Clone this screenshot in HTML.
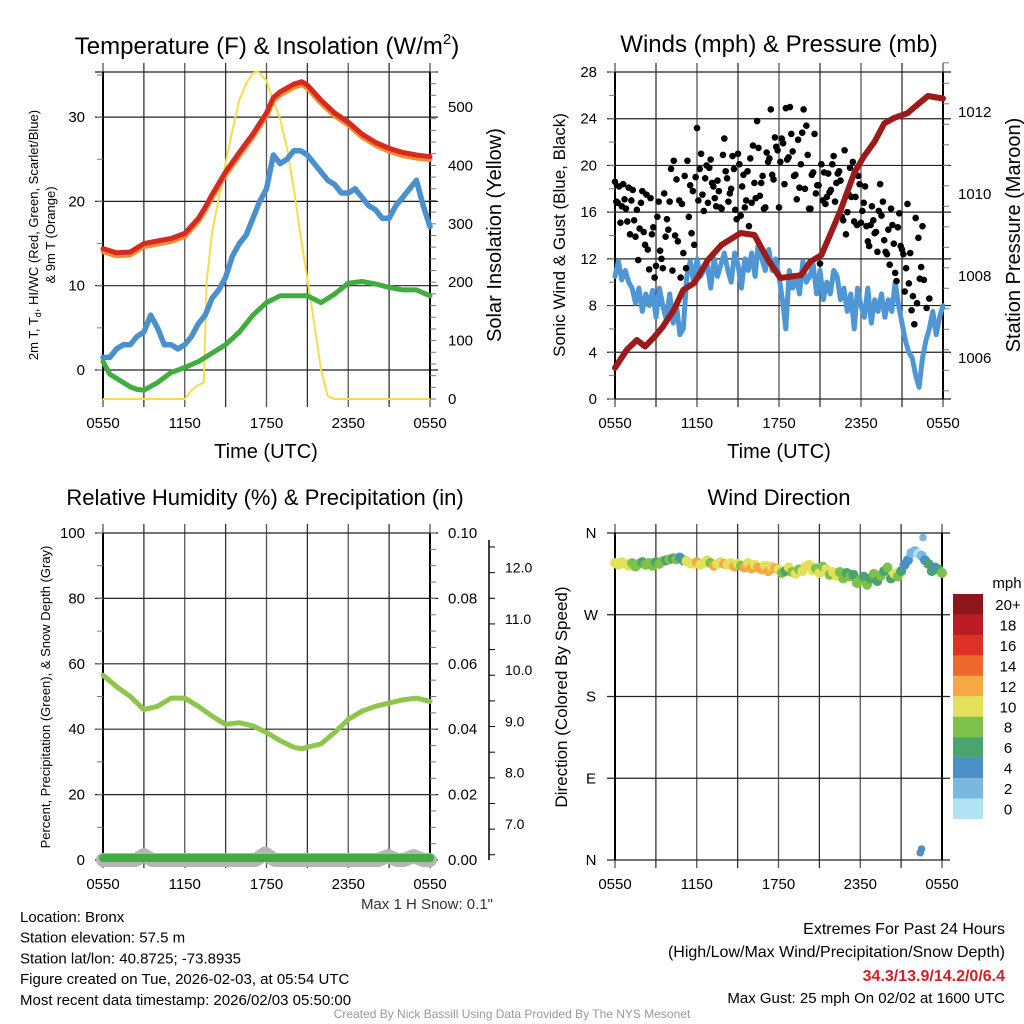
<!DOCTYPE html>
<html><head><meta charset="utf-8"><style>
body{margin:0;background:#fff}
svg{display:block;font-family:"Liberation Sans",Arial,sans-serif}
</style></head><body>
<svg id="s" width="1024" height="1024" viewBox="0 0 1024 1024">
<g id="bg"><rect width="1024" height="1024" fill="#fff"/></g>
</svg>
<script>
// ---- DATA ----
const xTickLabels = ["0550","1150","1750","2350","0550"];
const tempHours = [0,1,2,3,4,5,6,7,7.5,8,9,10,11,12,12.5,13,14,14.6,15,16,17,18,19,20,21,22,23,24];
const tempVals = [14.4,13.9,14.0,15.0,15.3,15.6,16.2,18.0,19.3,20.8,23.5,25.8,28.0,30.5,32.3,33.0,33.9,34.2,33.8,32.0,30.5,29.4,28.0,27.0,26.3,25.8,25.5,25.3];
const chillHalfHourly = [1.5,1.5,2.5,3.0,3.0,4.0,4.5,6.5,5.0,3.0,3.0,2.5,3.0,4.0,5.5,6.5,8.5,9.5,11.0,13.5,15.0,16.0,18.0,20.0,21.5,25.5,24.5,25.0,26.0,26.0,25.5,24.5,23.5,22.5,22.0,21.0,21.0,21.5,20.5,19.5,19.0,18.0,18.0,19.5,20.5,21.5,22.5,19.5,17.0];
const dewHours = [0,0.5,1,1.5,2,2.5,3,4,5,6,7,8,9,10,11,12,13,14,15,16,17,18,19,20,21,22,23,24];
const dewVals = [1.0,-0.5,-1.0,-1.5,-2.0,-2.3,-2.4,-1.5,-0.3,0.3,1.0,2.0,3.0,4.5,6.5,8.0,8.8,8.8,8.8,8.0,9.0,10.3,10.5,10.2,9.8,9.5,9.5,8.8];
const solarHours = [0,6,6.5,7,7.4,7.6,8,8.5,9,9.5,10,10.5,11,11.3,11.5,12,12.5,13,13.5,14,14.5,15,15.5,16,16.5,17,24];
const solarVals = [0,0,15,24,28,200,284,345,404,460,512,540,558,560,558,545,510,480,430,360,280,205,130,50,5,0,0];
const windQuarterHourly = [10.5,11.8,10.2,11,10,9.5,8.2,9.5,7.5,9,8,9.3,7,9.5,8,6.8,9,
6.5,8,5.5,6,10.5,11.8,10,12,10.5,11,11.5,9.5,12,10.5,11.5,12.5,
11,10,12.5,11.5,9.5,12,11,12.5,10.5,13.5,12,11,12.8,11,12,10.5,
8.5,6,11,9.5,10.5,9,11.8,10,10.5,11.5,9,11,8.5,10,9,11,
10.5,8.5,9.5,7.5,9,6,9.5,8,7,9.5,6.5,8.5,7.5,9,7,8.5,
7.5,10,8,6.5,5,4,3.5,2,1,3.5,5,6,7.5,5.5,7,8];
const gustA = [18.6,16.8,15.1,18.4,16.3,18.1,17,15.3,16.2,14.6,17.8,13.2,12.8,17.2,14.7,11.4,16.9,12,17.6,15.4,16.9,
11,14,13.5,10.4,12.5,11.2,15.6,14.2,13.2,23.2,19.7,17.5,18.9,16.8,20.5,18.2,16.5,17.8,16.3,
22.3,18.9,17.6,20.8,16.2,21,15.7,19.2,17,14.8,16.8,18.5,23.8,17.4,19.1,16.4,20.3,24.8,18.8,
21.6,16.4,22.3,18.4,20.5,25,21.2,19.2,22.2,20.1,24.8,23.4,16.3,19.2,22.7,18.3,11.6,17,16.7,
19.3,17.9,20.8,18.5,19.5,15.6,21.3,16,19.8,20.3,17.3,19.1,15.1,16.8,14.8,13.1,16.5,14.2,12.6,
18.4,16.9,12.6,14.5,16.3,13.3,10.1,15.9,12.8,9.2,16.7,12.5,8.8,15.5,13.8,11.3,10.2,7.8,8.6];
const gustB = [16.9,18.2,16.5,17.1,15.2,14.1,17.9,13.9,11.9,16.8,14.3,17.5,11.1,14.1,10.4,15.6,12.7,11.2,13.9,14.5,
19.7,20.4,18.8,17,16.7,19.1,20.4,18.3,17.8,19,17,21,16.1,20,19.8,18.5,17.2,18.7,16.4,
20.9,19.5,16.9,18,19.7,15.4,20.1,18.2,16.4,19.5,20.6,21.7,17.2,21.5,18.5,16.3,21.1,20.6,19.2,
22.4,21.3,20.3,21.9,24.9,20.7,22.7,19.1,17.1,18.1,22.8,18,20.9,16.3,19.4,17.6,18.3,20.1,
19.4,17.3,17.7,20.1,16.9,19.3,18.7,15.3,14.1,17.5,17.3,15.2,14.9,18.4,16.1,18.2,13.5,14.9,
15.3,14.3,16.1,15.7,13.6,12.4,11.5,14.9,10.8,14.7,13.1,12.4,11.2,9.9,7.6,6.4,8.2,10.3,14.8];
const presHours = [0,0.86,1.6,2.2,2.9,3.5,4.3,5.0,5.8,6.8,7.8,9.2,10.2,11.2,12.1,13.6,14.3,15.1,15.8,16.5,17.5,18.2,19.0,19.7,20.4,21.4,22.1,22.9,24];
const presVals = [1005.76,1006.2,1006.44,1006.28,1006.52,1006.76,1007.17,1007.66,1007.83,1008.39,1008.76,1009.05,1009.0,1008.39,1007.95,1008.02,1008.35,1008.51,1009.05,1009.6,1010.51,1010.91,1011.28,1011.72,1011.85,1011.97,1012.17,1012.39,1012.33];
const rhHours = [0,1,2,3,4,5,6,7,8,9,10,11,12,13,14,14.6,15,16,17,18,19,20,21,22,23,24];
const rhVals = [56.5,53,50,46,47,49.5,49.5,47,44,41.5,42,41,39,36.5,34.5,34,34.5,35.5,39,43,45.5,47,48,49,49.5,48.5];
const snowHours = [0,2.4,3,3.6,11.2,11.9,12.6,20.2,20.9,21.6,22.1,22.8,23.5,24];
const snowVals = [0,0,0.015,0,0,0.02,0,0,0.012,0,0,0.012,0,0];
const precipVals = [0,0];
const dirQuarterHourly = [327,325,328,326,324,327,323,326,328,325,327,324,328,326,329,330,331,
332,331,333,330,329,327,326,328,325,327,330,327,324,326,328,326,
325,327,323,326,324,322,327,321,325,322,320,324,318,323,321,320,
316,318,322,317,315,320,318,323,325,319,321,316,323,320,314,317,
313,317,310,316,312,314,305,308,312,303,310,315,307,313,318,322,
310,315,312,318,325,330,338,340,337,335,330,326,318,322,320,316];
const extraDirHours = [22.4,22.5,22.6];
const extraDirVals = [8,12,355];
const extraDirSpeeds = [4,4,2];
const colorLabels = ["20+","18","16","14","12","10","8","6","4","2","0"];
const colorScale = ["#8e1519","#b91c24","#dd3127","#ee6a2c","#f5a844","#e5e05a","#7dc14a","#4ba36e","#4a8fc6","#7ab8e0","#b3e2f5"];

// ---- HELPERS ----
const NS="http://www.w3.org/2000/svg";
const svg=document.getElementById('s');
function mk(tag,attrs,parent){const e=document.createElementNS(NS,tag);for(const k in attrs)e.setAttribute(k,attrs[k]);(parent||svg).appendChild(e);return e;}
function txt(s,x,y,size,anchor,parent,extra){const t=mk('text',Object.assign({x:x,y:y,'font-size':size,'text-anchor':anchor||'middle',fill:'#000'},extra||{}),parent);t.textContent=s;return t;}
function grp(name){const g=mk('g',{});return g;}
function path(pts){return pts.map((p,i)=>(i?'L':'M')+p[0].toFixed(1)+' '+p[1].toFixed(1)).join('');}

function frame(name,L,R,T,B,hLinesY){
  const g=grp(name+'-grid');
  for(let i=0;i<=8;i++){const x=L+(R-L)*i/8;mk('line',{x1:x,x2:x,y1:T-9,y2:B+8,stroke:i%2?'#333':'#555','stroke-width':1.3},g);}
  hLinesY.forEach(y=>mk('line',{x1:L-8,x2:R+8,y1:y,y2:y,stroke:'#222','stroke-width':1.2},g));
  mk('line',{x1:L,x2:L,y1:T,y2:B,stroke:'#000','stroke-width':2},g);
  mk('line',{x1:R,x2:R,y1:T,y2:B,stroke:'#000','stroke-width':2},g);
  const tg=grp(name+'-x-ticks');
  xTickLabels.forEach((s,i)=>{const t=txt(s,L+(R-L)*i/4,B+29,15,'middle',tg);});
}
function minorTicks(g,x,y0,y1,n,dir){for(let i=0;i<=n;i++){const y=y0+(y1-y0)*i/n;mk('line',{x1:x,x2:x+dir*6,y1:y,y2:y,stroke:'#777','stroke-width':1},g);}}
function rot(s,x,y,size,parent,name){const t=txt(s,x,y,size,'middle',parent,{transform:`rotate(-90 ${x} ${y})`});return t;}

// ===== PANEL 1: Temperature =====
(function(){
  const L=103,R=430,T=72,B=399;
  const X=h=>L+(R-L)*h/24;
  const Y=v=>370-v*8.43;
  const YS=v=>B-v*0.584;
  frame('temp-panel',L,R,T,B,[T,Y(0),Y(10),Y(20),Y(30)]);
  const ax=grp('temp-left-axis');
  minorTicks(ax,L,Y(0),Y(35),7,-1);
  [0,10,20,30].forEach(v=>txt(String(v),85,Y(v)+5,15,'end',ax));
  const ax2=grp('solar-right-axis');
  minorTicks(ax2,R,YS(0),YS(560),28,1);
  [0,100,200,300,400,500].forEach(v=>txt(String(v),448,YS(v)+5,15,'start',ax2));
  const s=grp('solar-series');
  mk('path',{d:path(solarHours.map((h,i)=>[X(h),YS(solarVals[i])])),fill:'none',stroke:'#f7dc4b','stroke-width':2},s);
  const dg=grp('dewpoint-series');
  mk('path',{d:path(dewHours.map((h,i)=>[X(h),Y(dewVals[i])])),fill:'none',stroke:'#3fae3f','stroke-width':5,'stroke-linejoin':'round','stroke-linecap':'round'},dg);
  const cg=grp('windchill-series');
  mk('path',{d:path(chillHalfHourly.map((v,i)=>[X(i*0.5),Y(v)])),fill:'none',stroke:'#4a90cd','stroke-width':5.5,'stroke-linejoin':'round','stroke-linecap':'round'},cg);
  const og=grp('temp-9m-series');
  mk('path',{d:path(tempHours.map((h,i)=>[X(h),Y(tempVals[i]-0.35)])),fill:'none',stroke:'#f5892d','stroke-width':5,'stroke-linejoin':'round','stroke-linecap':'round'},og);
  const rg=grp('temp-2m-series');
  mk('path',{d:path(tempHours.map((h,i)=>[X(h),Y(tempVals[i])])),fill:'none',stroke:'#d42a22','stroke-width':5,'stroke-linejoin':'round','stroke-linecap':'round'},rg);
  const tg=grp('temp-title');
  const t=txt('',267,54,24,'middle',tg);t.innerHTML='Temperature (F) &amp; Insolation (W/m<tspan font-size="15" dy="-10">2</tspan><tspan dy="10">)</tspan>';
  const lg=grp('temp-y-axis-title');
  const t1=txt('',38,235,13,'middle',lg,{transform:'rotate(-90 38 235)'});t1.innerHTML='2m T, T<tspan font-size="9" dy="3">d</tspan><tspan dy="-3">, HI/WC (Red, Green, Scarlet/Blue)</tspan>';
  txt('& 9m T (Orange)',55,235,13,'middle',lg,{transform:'rotate(-90 55 235)'});
  rot('Solar Insolation (Yellow)',501,235,20,svg,'solar-axis-title');
  const xt=txt('Time (UTC)',266,458,20,'middle');
})();

// ===== PANEL 2: Winds =====
(function(){
  const L=615,R=943,T=72,B=399;
  const X=h=>L+(R-L)*h/24;
  const Y=v=>B-v*327/28;
  const YP=p=>112+(1012-p)*41;
  frame('wind-panel',L,R,T,B,[0,4,8,12,16,20,24,28].map(Y));
  const ax=grp('wind-left-axis');
  minorTicks(ax,L,Y(0),Y(28),14,-1);
  [0,4,8,12,16,20,24,28].forEach(v=>txt(String(v),597,Y(v)+5,15,'end',ax));
  const ax2=grp('pressure-right-axis');
  minorTicks(ax2,R,YP(1005.2),YP(1013.2),16,1);
  [1006,1008,1010,1012].forEach(v=>txt(String(v),958,YP(v)+5,15,'start',ax2));
  const wg=grp('wind-series');
  mk('path',{d:path(windQuarterHourly.map((v,i)=>[X(i*0.25),Y(v)])),fill:'none',stroke:'#4f97d4','stroke-width':5,'stroke-linejoin':'round','stroke-linecap':'round'},wg);
  const gg=grp('gust-points');
  gustA.forEach((v,i)=>{const c=mk('circle',{cx:X(i*0.2),cy:Y(v),r:3.3,fill:'#000'},gg);
    
    });
  gustB.forEach((v,i)=>{const c=mk('circle',{cx:X(0.1+i*0.2),cy:Y(v),r:3.3,fill:'#000'},gg);
    
    });
  const pg=grp('pressure-series');
  mk('path',{d:path(presHours.map((h,i)=>[X(h),YP(presVals[i])])),fill:'none',stroke:'#9b1b1b','stroke-width':6,'stroke-linejoin':'round','stroke-linecap':'round'},pg);
  const tg=grp('wind-title');txt('Winds (mph) & Pressure (mb)',779,52,24,'middle',tg);
  rot('Sonic Wind & Gust (Blue, Black)',565,235,17,svg,'wind-axis-title');
  rot('Station Pressure (Maroon)',1020,235,20,svg,'pressure-axis-title');
  const xt=txt('Time (UTC)',779,458,20,'middle');
})();

// ===== PANEL 3: RH =====
(function(){
  const L=103,R=430,T=533,B=860;
  const X=h=>L+(R-L)*h/24;
  const Y=v=>B-v*3.27;
  const YQ=v=>B-v*3270;
  frame('rh-panel',L,R,T,B,[0,20,40,60,80,100].map(Y));
  const ax=grp('rh-left-axis');
  minorTicks(ax,L,Y(0),Y(100),10,-1);
  [0,20,40,60,80,100].forEach(v=>txt(String(v),85,Y(v)+5,15,'end',ax));
  const ax2=grp('precip-right-axis');
  minorTicks(ax2,R,YQ(0),YQ(0.1),20,1);
  ['0.00','0.02','0.04','0.06','0.08','0.10'].forEach(s=>txt(s,448,YQ(+s)+5,15,'start',ax2));
  const ax3=grp('snow-depth-axis');
  mk('line',{x1:489,x2:489,y1:540,y2:860,stroke:'#000','stroke-width':1.5},ax3);
  for(let v=6.4;v<=12.7;v+=0.5){const y=824-(v-7)*51.3;mk('line',{x1:489,x2:495,y1:y,y2:y,stroke:'#000','stroke-width':1},ax3);}
  ['7.0','8.0','9.0','10.0','11.0','12.0'].forEach(s=>txt(s,505,824-(+s-7)*51.3+5,14,'start',ax3));
  const sg=grp('snow-depth-series');
  mk('path',{d:path(snowHours.map((h,i)=>[X(h),YQ(snowVals[i]/10)])),fill:'none',stroke:'#b5b5b5','stroke-width':14,'stroke-linejoin':'round','stroke-linecap':'round'},sg);
  const pg=grp('precip-series');
  mk('path',{d:path(precipVals.map((v,i)=>[X(i*24),YQ(v)-2])),fill:'none',stroke:'#3fae3f','stroke-width':8,'stroke-linecap':'round'},pg);
  const rg=grp('rh-series');
  mk('path',{d:path(rhHours.map((h,i)=>[X(h),Y(rhVals[i])])),fill:'none',stroke:'#8dc64a','stroke-width':5,'stroke-linejoin':'round','stroke-linecap':'round'},rg);
  const tg=grp('rh-title');txt('Relative Humidity (%) & Precipitation (in)',265,505,22,'middle',tg);
  rot('Percent, Precipitation (Green), & Snow Depth (Gray)',50,697,13,svg,'rh-axis-title');
  const m=txt('Max 1 H Snow: 0.1"',493,909,15,'end');m.setAttribute('fill','#333');
})();

// ===== PANEL 4: Wind direction =====
(function(){
  const L=615,R=942,T=533,B=860;
  const X=h=>L+(R-L)*h/24;
  const Y=d=>B-d*327/360;
  const col=s=>colorScale[10-Math.max(0,Math.min(10,Math.floor(s/2)))];
  frame('dir-panel',L,R,T,B,[0,90,180,270,360].map(Y));
  const ax=grp('dir-left-axis');
  [['N',360],['W',270],['S',180],['E',90],['N',0]].forEach(a=>txt(a[0],591,Y(a[1])+5,15,'middle',ax));
  const dg=grp('direction-points');
  dirQuarterHourly.forEach((d,i)=>{const c=mk('circle',{cx:X(i*0.25),cy:Y(d),r:5,fill:col(windQuarterHourly[i])},dg);
    
    });
  extraDirVals.forEach((d,i)=>{const c=mk('circle',{cx:X(extraDirHours[i]),cy:Y(d),r:3.8,fill:col(extraDirSpeeds[i])},dg);
    
    });
  const cb=grp('speed-colorbar');
  colorScale.forEach((c,i)=>{const r=mk('rect',{x:953,y:594+i*20.45,width:30,height:20.6,fill:c},cb);
    
    });
  colorLabels.forEach((s,i)=>txt(s,1008,594+i*20.45+16,15,'middle',cb));
  txt('mph',1007,588,15,'middle',cb);
  const tg=grp('dir-title');txt('Wind Direction',779,505,22,'middle',tg);
  rot('Direction (Colored By Speed)',567,697,17,svg,'dir-axis-title');
})();

// ===== FOOTER =====
(function(){
  const g=grp('station-info');
  ['Location: Bronx','Station elevation: 57.5 m','Station lat/lon: 40.8725; -73.8935','Figure created on Tue, 2026-02-03, at 05:54 UTC','Most recent data timestamp: 2026/02/03 05:50:00'].forEach((s,i)=>txt(s,20,922+i*20.7,15,'start',g));
  const e=grp('extremes-info');
  txt('Extremes For Past 24 Hours',1005,934,16,'end',e);
  txt('(High/Low/Max Wind/Precipitation/Snow Depth)',1005,957,16,'end',e);
  txt('34.3/13.9/14.2/0/6.4',1005,981,16,'end',e,{fill:'#d0202a','font-weight':'bold'});
  txt('Max Gust: 25 mph On 02/02 at 1600 UTC',1005,1003,15,'end',e);
  const c=grp('credit');txt('Created By Nick Bassill Using Data Provided By The NYS Mesonet',512,1018,12,'middle',c,{fill:'#999'});
})();
</script>
</body></html>
